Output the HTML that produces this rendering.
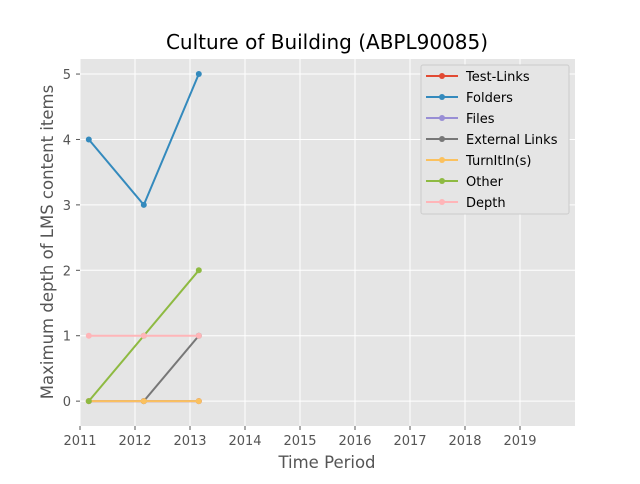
<!DOCTYPE html>
<html><head><meta charset="utf-8"><style>
body{margin:0;background:#fff;font-family:"DejaVu Sans","Liberation Sans",sans-serif;}
</style></head><body>
<svg id="chart" width="640" height="480" xmlns="http://www.w3.org/2000/svg" font-family="DejaVu Sans, Liberation Sans, sans-serif">
<rect width="640" height="480" fill="#fff"/>
<rect x="80" y="59" width="495" height="367" fill="#E5E5E5"/>
<g id="grid"></g>
<g id="series"></g>
<text x="327" y="49" font-size="20" text-anchor="middle" fill="#000">Culture of Building (ABPL90085)</text>
<text x="327" y="468" font-size="16.5" text-anchor="middle" fill="#555">Time Period</text>
<text transform="translate(53,242) rotate(-90)" font-size="16.5" text-anchor="middle" fill="#555">Maximum depth of LMS content items</text>
<g id="legend"></g>
</svg>
<script>
const xTicks=[2011,2012,2013,2014,2015,2016,2017,2018,2019];
const yTicks=[0,1,2,3,4,5];
const periods=[2011.16,2012.16,2013.16];
const seriesNames=["Test-Links","Folders","Files","External Links","TurnItIn(s)","Other","Depth"];
const testLinks=[0,0,0];
const folders=[4,3,5];
const files=[0,0,0];
const externalLinks=[null,0,1];
const turnitin=[0,0,0];
const other=[0,1,2];
const depth=[1,1,1];
const colors=["#E24A33","#348ABD","#988ED5","#777777","#FBC15E","#8EBA42","#FFB5B8"];
const allSeries=[testLinks,folders,files,externalLinks,turnitin,other,depth];
const X0=80,X1=575,Y0=426,Y1=59,xmin=2011,xmax=2020,ymin=-0.38,ymax=5.23;
const sx=v=>X0+(v-xmin)/(xmax-xmin)*(X1-X0);
const sy=v=>Y0-(v-ymin)/(ymax-ymin)*(Y0-Y1);
const NS="http://www.w3.org/2000/svg";
function mk(t,a,p){const e=document.createElementNS(NS,t);for(const k in a)e.setAttribute(k,a[k]);p.appendChild(e);return e;}
const grid=document.getElementById('grid');
xTicks.forEach(t=>{
  const l=mk('line',{x1:sx(t),x2:sx(t),y1:Y1,y2:Y0,stroke:'#fff','stroke-width':1},grid);
  
  
  mk('line',{x1:sx(t),x2:sx(t),y1:Y0,y2:Y0+4,stroke:'#555'},grid);
  const tx=mk('text',{x:sx(t),y:Y0+19,'font-size':13,'text-anchor':'middle',fill:'#555'},grid);
  tx.textContent=t;
  
  
});
yTicks.forEach(t=>{
  const l=mk('line',{x1:X0,x2:X1,y1:sy(t),y2:sy(t),stroke:'#fff','stroke-width':1},grid);
  
  
  mk('line',{x1:X0-4,x2:X0,y1:sy(t),y2:sy(t),stroke:'#555'},grid);
  const tx=mk('text',{x:X0-9,y:sy(t)+5,'font-size':13,'text-anchor':'end',fill:'#555'},grid);
  tx.textContent=t;
  
  
});
const sg=document.getElementById('series');
allSeries.forEach((s,i)=>{
  const g=mk('g',{},sg);
  
  
  const pts=[];
  s.forEach((v,j)=>{if(v!==null)pts.push([sx(periods[j]),sy(v)]);});
  mk('polyline',{points:pts.map(p=>p.join(',')).join(' '),fill:'none',stroke:colors[i],'stroke-width':2},g);
  pts.forEach(p=>{
    const c=mk('circle',{cx:p[0],cy:p[1],r:3,fill:colors[i]},g);
    
    
  });
});
const lg=document.getElementById('legend');
const box=mk('rect',{x:421,y:65,width:148,height:149,fill:'#E5E5E5',stroke:'#ccc','stroke-width':1,rx:2},lg);


seriesNames.forEach((n,i)=>{
  const y=76+i*21;
  const g=mk('g',{},lg);
  
  
  mk('line',{x1:426,x2:458,y1:y,y2:y,stroke:colors[i],'stroke-width':2},g);
  mk('circle',{cx:442,cy:y,r:3,fill:colors[i]},g);
  const t=mk('text',{x:466,y:y+5,'font-size':13,fill:'#000'},g);
  t.textContent=n;
});
</script>
</body></html>
